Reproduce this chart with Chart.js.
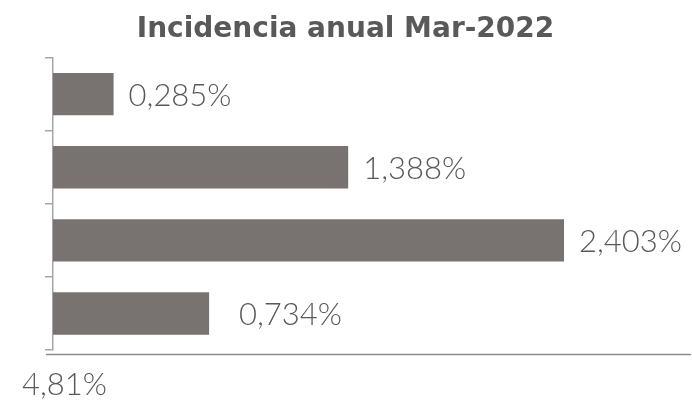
<!DOCTYPE html>
<html>
<head>
<meta charset="utf-8">
<script src="https://cdn.jsdelivr.net/npm/chart.js@4/dist/chart.umd.min.js"></script>
<style>
  html, body { margin: 0; padding: 0; background: #fff; }
  #wrap { width: 692px; height: 400px; }
</style>
</head>
<body>
<div id="wrap"><canvas id="chart" width="692" height="400"></canvas></div>
<script>
const categories = ['Grupo 1', 'Grupo 2', 'Grupo 3', 'Grupo 4'];
const incidence = [0.285, 1.388, 2.403, 0.734];
const barLabels = ['0,285%', '1,388%', '2,403%', '0,734%'];
const totalLabel = '4,81%';
const chartTitle = 'Incidencia anual Mar-2022';

const textGray = '#595959';
const lightFont = "'Lato', 'Open Sans', sans-serif";

// value labels to the right of each bar, plus total under the axis
const labelPlugin = {
    id: 'labels',
    afterDatasetsDraw(chart) {
        const ctx = chart.ctx;
        const meta = chart.getDatasetMeta(0);
        const area = chart.chartArea;
        ctx.save();
        ctx.font = '300 31px ' + lightFont;
        ctx.fillStyle = textGray;
        ctx.textBaseline = 'middle';
        ctx.textAlign = 'left';
        meta.data.forEach((bar, i) => {
            const extra = i === 3 ? 15 : 0;
            ctx.fillText(barLabels[i], bar.x + 15 + extra, bar.y + 2);
        });
        // bottom line, a bit below the value axis
        ctx.strokeStyle = '#8c8c8c';
        ctx.lineWidth = 1.5;
        ctx.beginPath();
        ctx.moveTo(area.left - 7, area.bottom + 4.5);
        ctx.lineTo(area.right, area.bottom + 4.5);
        ctx.stroke();
        ctx.fillText(totalLabel, 22, area.bottom + 35);
        ctx.restore();
    }
};

new Chart(document.getElementById('chart'), {
    type: 'bar',
    data: {
        labels: categories,
        datasets: [{
            data: incidence,
            backgroundColor: '#787371',
            categoryPercentage: 0.58,
            barPercentage: 1
        }]
    },
    options: {
        indexAxis: 'y',
        responsive: false,
        animation: false,
        layout: { padding: { left: 0, right: 1, top: 0, bottom: 50 } },
        plugins: {
            legend: { display: false },
            tooltip: { enabled: false },
            title: {
                display: true,
                text: chartTitle,
                color: textGray,
                font: { family: "'DejaVu Sans', sans-serif", size: 28, weight: 'bold' },
                padding: { top: 13, bottom: 11 }
            }
        },
        scales: {
            x: {
                min: 0,
                max: 3,
                display: false
            },
            y: {
                offset: true,
                afterFit: s => { s.width = 53; },
                grid: {
                    offset: true,
                    drawOnChartArea: false,
                    drawTicks: true,
                    tickLength: 8,
                    color: '#a6a6a6',
                    lineWidth: 1.5
                },
                border: { display: true, color: '#a6a6a6', width: 1.5 },
                ticks: { display: false }
            }
        }
    },
    plugins: [labelPlugin]
});
</script>
</body>
</html>
